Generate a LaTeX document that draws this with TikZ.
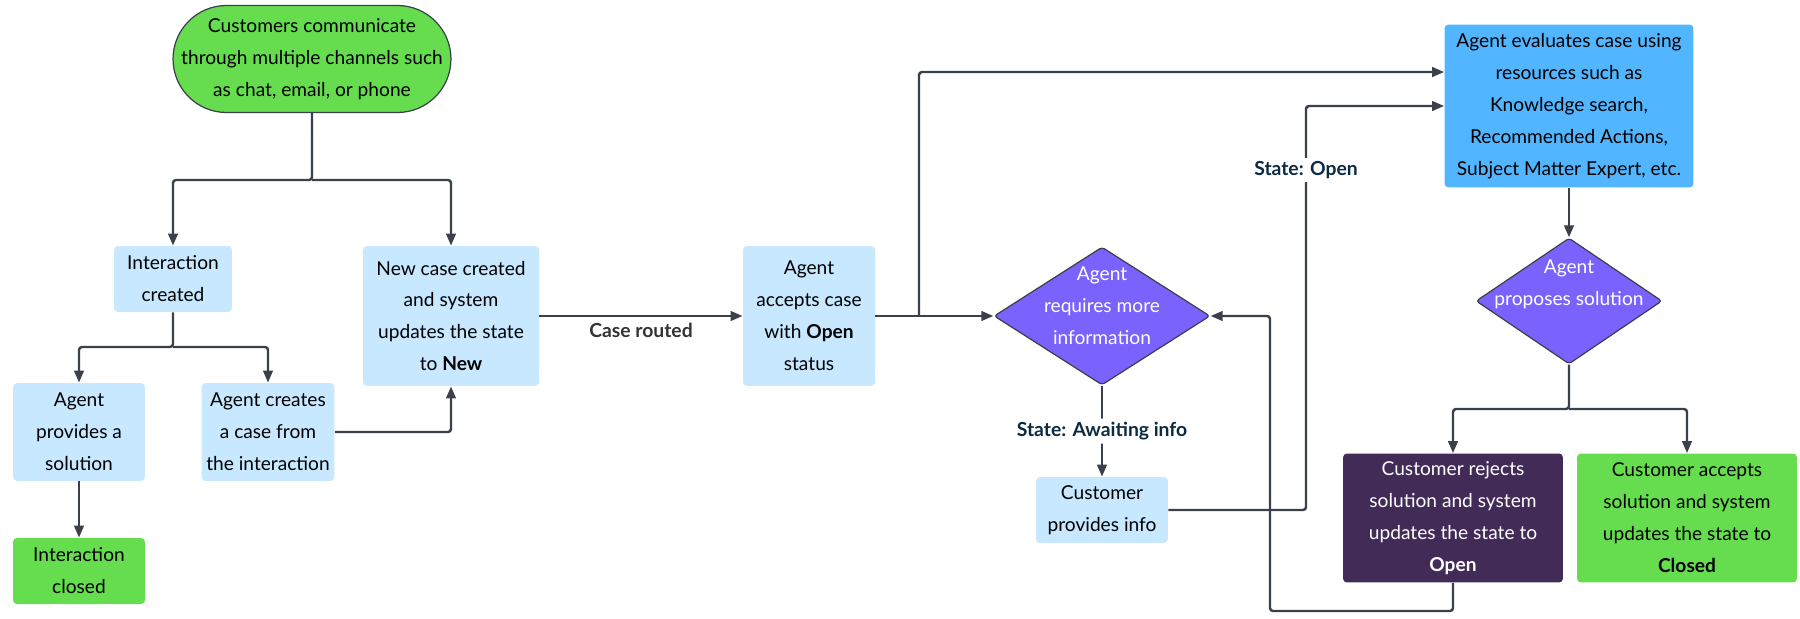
\documentclass[tikz,border=0pt]{standalone}
\usepackage{fontspec}
\setmainfont{Lato}
\usetikzlibrary{arrows.meta,shapes.geometric}

\definecolor{flowgreen}{HTML}{66DD4F}
\definecolor{paleblue}{HTML}{C7E8FF}
\definecolor{skyblue}{HTML}{52B5FF}
\definecolor{flowviolet}{HTML}{7A62FF}
\definecolor{plum}{HTML}{432B58}
\definecolor{wire}{HTML}{3A414A}
\definecolor{navy}{HTML}{0B2B44}
\definecolor{routegrey}{HTML}{333333}

\begin{document}
\begin{tikzpicture}[x=0.02cm, y=-0.02cm,
  txt/.style={font=\fontsize{10.9}{18.2}\selectfont, align=center, inner sep=0pt},
  box/.style={txt, fill=paleblue, rounded corners=0.08cm},
  donebox/.style={txt, fill=flowgreen, rounded corners=0.08cm},
  startbox/.style={txt, fill=flowgreen, draw=wire, line width=0.7pt, rounded corners=1.07cm},
  decision/.style={diamond, fill=flowviolet, draw=wire, line width=0.7pt, inner sep=0pt, rounded corners=0.06cm},
  dectext/.style={txt, text=white},
  flow/.style={draw=wire, line width=1.4pt, rounded corners=0.06cm, -{Triangle[length=0.24cm, width=0.19cm]}},
  statelbl/.style={fill=white, text=navy, font=\fontsize{11}{12}\selectfont\bfseries, inner sep=2pt}]

  \useasboundingbox (0, 0) rectangle (1800, 619);

  % -- Customer contact --
  \node[startbox, minimum width=5.56cm, minimum height=2.14cm] (start) at (312, 59)
    {Customers communicate\\through multiple channels such\\as chat, email, or phone};

  % -- Interaction side --
  \node[box, minimum width=2.36cm, minimum height=1.32cm] (icreated) at (173, 279) {Interaction\\created};
  \node[box, minimum width=2.64cm, minimum height=1.96cm] (provides) at (79, 432) {Agent\\provides a\\solution};
  \node[box, minimum width=2.66cm, minimum height=1.96cm] (creates) at (268, 432) {Agent creates\\a case from\\the interaction};
  \node[donebox, minimum width=2.64cm, minimum height=1.32cm] (iclosed) at (79, 571) {Interaction\\closed};

  % -- Case side --
  \node[box, minimum width=3.52cm, minimum height=2.8cm] (newcase) at (451, 316)
    {New case created\\and system\\updates the state\\to \textbf{New}};
  \node[box, minimum width=2.64cm, minimum height=2.8cm] (accepts) at (809, 316)
    {Agent\\accepts case\\with \textbf{Open}\\status};

  % -- More information loop --
  \node[decision, minimum width=4.32cm, minimum height=2.76cm,
    label={[dectext, yshift=0.2cm]center:{Agent\\requires more\\information}}] (needinfo) at (1102, 316) {};
  \node[box, minimum width=2.64cm, minimum height=1.32cm] (custinfo) at (1102, 510) {Customer\\provides info};

  % -- Evaluation --
  \node[txt, fill=skyblue, rounded corners=0.08cm, minimum width=4.98cm, minimum height=3.26cm] (evaluates) at (1569, 106)
    {Agent evaluates case using\\resources such as\\Knowledge search,\\Recommended Actions,\\Subject Matter Expert, etc.};
  \node[decision, minimum width=3.72cm, minimum height=2.52cm,
    label={[dectext, yshift=0.34cm]center:{Agent\\proposes solution}}] (proposes) at (1569, 301) {};

  % -- Outcomes --
  \node[txt, fill=plum, text=white, rounded corners=0.08cm, minimum width=4.4cm, minimum height=2.58cm] (rejects) at (1453, 518)
    {Customer rejects\\solution and system\\updates the state to\\\textbf{Open}};
  \node[donebox, minimum width=4.4cm, minimum height=2.58cm] (custaccepts) at (1687, 518)
    {Customer accepts\\solution and system\\updates the state to\\\textbf{Closed}};

  % -- Split from the customer --
  \coordinate (split1) at (312, 180);
  \draw[flow] (start.south) -- (split1) -| (icreated.north);
  \draw[flow] (split1) -| (newcase.north);

  % -- Split under the interaction --
  \coordinate (split2) at (173, 347);
  \draw[flow] (icreated.south) -- (split2) -| (provides.north);
  \draw[flow] (split2) -| (creates.north);
  \draw[flow] (provides) -- (iclosed);
  \draw[flow] (creates.east) -| (newcase.south);

  % -- Routing --
  \draw[flow] (newcase) -- node[below=0.12cm, text=routegrey, font=\fontsize{11}{12}\selectfont\bfseries, inner sep=0pt] (lblroute) {Case routed} (accepts);
  \coordinate (fork) at (919, 316);
  \draw[flow] (accepts.east) -- (needinfo.west);
  \draw[flow] (fork) |- ([yshift=0.68cm]evaluates.west);

  % -- Awaiting info --
  \draw[flow] (needinfo.south) -- node[statelbl] (lblwait) {State: Awaiting info} (custinfo.north);
  \coordinate (openbend) at (1306, 106);
  \draw[flow] (custinfo.east) -| (openbend) -- (evaluates.west);
  \node[statelbl] (lblopen) at (1306, 170) {State: Open};

  % -- Solution split --
  \draw[flow] (evaluates) -- (proposes);
  \coordinate (split3) at (1569, 409);
  \draw[flow] (proposes.south) -- (split3) -| (rejects.north);
  \draw[flow] (split3) -| (custaccepts.north);

  % -- Back to more information --
  \coordinate (loopbase) at (1270, 611);
  \draw[flow] (rejects.south) |- (loopbase) |- (needinfo.east);

\end{tikzpicture}
\end{document}
